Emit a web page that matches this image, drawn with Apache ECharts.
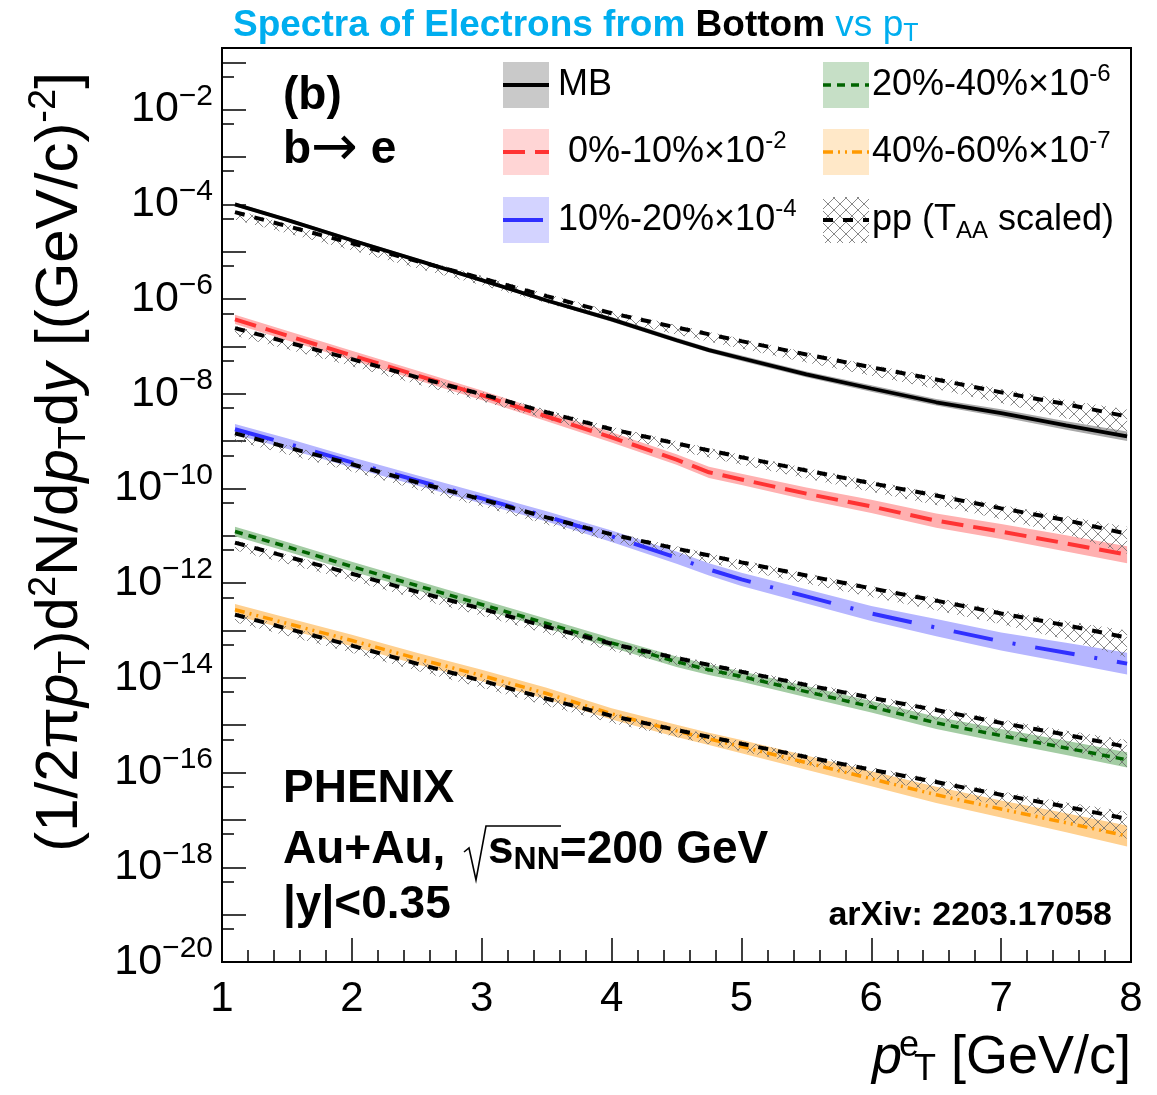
<!DOCTYPE html>
<html><head><meta charset="utf-8">
<script src="https://cdn.jsdelivr.net/npm/echarts@6/dist/echarts.min.js"></script>
<style>html,body{margin:0;padding:0;background:#fff}#c{width:1157px;height:1095px}</style>
</head><body><div id="c"></div>
<script>
const FONT = '"Liberation Sans", Arial, Helvetica, sans-serif';

// ---- data ----
const ptAuAu = [1.1, 1.5, 2, 2.5, 3, 3.5, 4, 4.5, 4.75, 5, 5.5, 6, 6.5, 7, 7.5, 7.97];
const ptPP   = [1.1, 1.5, 2, 2.5, 3, 3.5, 4, 4.5, 5, 5.5, 6, 6.5, 7, 7.5, 7.97];

const yMB    = [1.00e-4, 4.68e-5, 1.74e-5, 6.61e-6, 2.51e-6, 9.33e-7, 3.72e-7, 1.35e-7, 8.32e-8, 5.62e-8, 2.57e-8, 1.29e-8, 6.61e-9, 3.89e-9, 2.14e-9, 1.26e-9];
const y0010  = [3.72e-7, 1.70e-7, 6.46e-8, 2.45e-8, 9.33e-9, 3.31e-9, 1.20e-9, 4.07e-10, 2.19e-10, 1.55e-10, 7.76e-11, 4.17e-11, 2.09e-11, 1.23e-11, 6.92e-12, 3.98e-12];
const y1020  = [1.78e-9, 8.91e-10, 3.55e-10, 1.48e-10, 6.17e-11, 2.57e-11, 9.77e-12, 3.47e-12, 1.95e-12, 1.20e-12, 5.25e-13, 2.29e-13, 1.15e-13, 5.89e-14, 3.39e-14, 2.00e-14];
const y2040  = [1.23e-11, 5.89e-12, 2.24e-12, 8.91e-13, 3.55e-13, 1.41e-13, 5.50e-14, 2.19e-14, 1.48e-14, 1.07e-14, 5.13e-15, 2.45e-15, 1.12e-15, 6.03e-16, 3.31e-16, 1.86e-16];
const y4060  = [2.75e-13, 1.41e-13, 6.17e-14, 2.57e-14, 1.12e-14, 4.68e-15, 1.74e-15, 7.59e-16, 5.13e-16, 3.55e-16, 1.62e-16, 7.41e-17, 3.39e-17, 1.70e-17, 8.71e-18, 4.57e-18];

// systematic band half-widths (decades)
const errMB   = [0.04,0.04,0.04,0.04,0.04,0.04,0.05,0.05,0.05,0.06,0.06,0.07,0.07,0.08,0.09,0.10];
const err0010 = [0.10,0.10,0.10,0.10,0.10,0.10,0.11,0.11,0.12,0.12,0.13,0.14,0.15,0.16,0.17,0.18];
const err1020 = [0.11,0.11,0.11,0.11,0.11,0.11,0.12,0.13,0.13,0.14,0.15,0.16,0.18,0.19,0.21,0.23];
const err2040 = [0.10,0.10,0.10,0.10,0.10,0.10,0.10,0.11,0.11,0.11,0.12,0.12,0.13,0.14,0.15,0.16];
const err4060 = [0.12,0.12,0.12,0.12,0.12,0.12,0.12,0.13,0.13,0.14,0.15,0.16,0.17,0.18,0.20,0.22];

// pp reference (T_AA scaled)
const ppMB   = [6.84e-5, 3.47e-5, 1.51e-5, 6.31e-6, 2.75e-6, 1.15e-6, 5.01e-7, 2.51e-7, 1.29e-7, 6.76e-8, 3.63e-8, 2.00e-8, 1.07e-8, 6.03e-9, 3.31e-9];
const pp0010 = [2.43e-7, 1.23e-7, 5.37e-8, 2.24e-8, 9.77e-9, 4.07e-9, 1.78e-9, 8.91e-10, 4.57e-10, 2.40e-10, 1.29e-10, 7.08e-11, 3.80e-11, 2.14e-11, 1.10e-11];
const pp1020 = [1.46e-9, 7.41e-10, 3.24e-10, 1.35e-10, 5.89e-11, 2.45e-11, 1.07e-11, 5.37e-12, 2.75e-12, 1.45e-12, 7.76e-13, 4.27e-13, 2.29e-13, 1.29e-13, 7.08e-14];
const pp2040 = [7.16e-12, 3.63e-12, 1.58e-12, 6.61e-13, 2.88e-13, 1.20e-13, 5.25e-14, 2.63e-14, 1.35e-14, 7.08e-15, 3.80e-15, 2.09e-15, 1.12e-15, 6.31e-16, 3.47e-16];
const pp4060 = [2.16e-13, 1.10e-13, 4.79e-14, 2.00e-14, 8.71e-15, 3.63e-15, 1.58e-15, 7.94e-16, 4.07e-16, 2.14e-16, 1.15e-16, 6.31e-17, 3.39e-17, 1.91e-17, 1.05e-17];
const ppErrUp = [0.05,0.05,0.05,0.05,0.05,0.05,0.05,0.05,0.05,0.05,0.05,0.06,0.07,0.09,0.15];
const ppErrDn = [0.16,0.15,0.15,0.15,0.15,0.15,0.15,0.15,0.16,0.17,0.18,0.20,0.23,0.30,0.42];

// axis tick labels
const xTickValues = [1, 2, 3, 4, 5, 6, 7, 8];
const yLabelExponents = [-20, -18, -16, -14, -12, -10, -8, -6, -4, -2];

// ---- styles ----
const hatchCanvas = (function () {
  const c = document.createElement('canvas'); c.width = 12; c.height = 12;
  const g = c.getContext('2d');
  g.strokeStyle = '#6a6a6a'; g.lineWidth = 0.8;
  g.beginPath(); g.moveTo(-1, -1); g.lineTo(13, 13); g.moveTo(-1, 13); g.lineTo(13, -1); g.stroke();
  return c;
})();
const hatchFill = { image: hatchCanvas, repeat: 'repeat' };

const ST = {
  mb:  { line: '#000000', band: '#a9a9a9', box: '#c9c9c9', width: 3.8, type: 'solid' },
  c0:  { line: '#ff3333', band: '#ffb0b0', box: '#ffd5d5', width: 4, type: [22, 10] },
  c1:  { line: '#3030ff', band: '#b5b5ff', box: '#d3d3ff', width: 4, type: [40, 20, 3, 20] },
  c2:  { line: '#006400', band: '#a3cca3', box: '#c6dfc6', width: 3.5, type: [8, 6] },
  c3:  { line: '#ff9900', band: '#ffd08f', box: '#ffe8c8', width: 3.5, type: [10, 5, 2, 5, 2, 5] },
  pp:  { line: '#000000', width: 4, type: [10, 10] }
};

function bandSeries(name, xs, c, dUp, dDn, fill, z) {
  const lo = c.map((v, i) => v * Math.pow(10, -dDn[i]));
  const hi = c.map((v, i) => v * Math.pow(10, dUp[i]));
  return {
    name, type: 'custom', z, silent: true, clip: true,
    data: xs.map((x, i) => [x, lo[i], hi[i]]),
    encode: { x: 0, y: [1, 2] },
    renderItem(params, api) {
      if (params.dataIndex !== 0) return null;
      const top = [], bot = [];
      for (let i = 0; i < xs.length; i++) {
        top.push(api.coord([xs[i], hi[i]]));
        bot.push(api.coord([xs[i], lo[i]]));
      }
      return { type: 'polygon', shape: { points: top.concat(bot.reverse()) }, style: { fill } };
    }
  };
}
function lineSeries(name, xs, ys, st, z) {
  return {
    name, type: 'line', z, silent: true, showSymbol: false, symbol: 'none',
    data: xs.map((x, i) => [x, ys[i]]),
    lineStyle: { color: st.line, width: st.width, type: st.type, cap: 'butt' }
  };
}

const aaSets = [
  ['MB', yMB, errMB, ST.mb, ppMB],
  ['0%-10%', y0010, err0010, ST.c0, pp0010],
  ['10%-20%', y1020, err1020, ST.c1, pp1020],
  ['20%-40%', y2040, err2040, ST.c2, pp2040],
  ['40%-60%', y4060, err4060, ST.c3, pp4060]
];
const series = [];
aaSets.forEach(s => series.push(bandSeries(s[0] + ' band', ptAuAu, s[1], s[2], s[2], s[3].band, 1)));
aaSets.forEach(s => series.push(bandSeries(s[0] + ' pp band', ptPP, s[4], ppErrUp, ppErrDn, hatchFill, 2)));
aaSets.forEach(s => series.push(lineSeries(s[0], ptAuAu, s[1], s[3], 3)));
aaSets.forEach(s => series.push(lineSeries(s[0] + ' pp', ptPP, s[4], ST.pp, 4)));

// ---- legend (drawn) ----
const legendItems = [
  { col: 0, row: 0, st: ST.mb, text: '{t|MB}' },
  { col: 0, row: 1, st: ST.c0, text: '{t| 0%-10%×10}{s|-2}' },
  { col: 0, row: 2, st: ST.c1, text: '{t|10%-20%×10}{s|-4}' },
  { col: 1, row: 0, st: ST.c2, text: '{t|20%-40%×10}{s|-6}' },
  { col: 1, row: 1, st: ST.c3, text: '{t|40%-60%×10}{s|-7}' },
  { col: 1, row: 2, st: null,  text: '{t|pp (T}{b|AA}{t| scaled)}' }
];
const legRowY = [85, 152, 220], legBoxX = [503, 823], legTextX = [558, 872];
const graphic = [];
legendItems.forEach(it => {
  const x = legBoxX[it.col], y = legRowY[it.row];
  graphic.push({ type: 'rect', shape: { x: x, y: y - 23, width: 46, height: 46 },
    style: { fill: it.st ? it.st.box : hatchFill }, z: 10 });
  const ls = it.st || ST.pp;
  graphic.push({ type: 'line', shape: { x1: x, y1: y, x2: x + 46, y2: y },
    style: { stroke: ls.line, lineWidth: ls.width, lineDash: ls.type === 'solid' ? null : ls.type }, z: 11 });
  graphic.push({ type: 'text', x: legTextX[it.col], y: y, z: 11,
    style: { text: it.text, verticalAlign: 'middle', fill: '#000',
      rich: {
        t: { fontSize: 36, fontFamily: FONT, lineHeight: 46, verticalAlign: 'middle' },
        s: { fontSize: 24, fontFamily: FONT, lineHeight: 22, verticalAlign: 'top' },
        b: { fontSize: 24, fontFamily: FONT, lineHeight: 22, verticalAlign: 'bottom' }
      } } });
});

// ---- annotations ----
const boldRich = {
  B: { fontSize: 46, fontWeight: 'bold', fontFamily: FONT, lineHeight: 52, verticalAlign: 'middle' },
  A: { fontSize: 56, fontWeight: 'normal', fontFamily: '"DejaVu Sans", sans-serif', lineHeight: 52, verticalAlign: 'middle' },
  S: { fontSize: 32, fontWeight: 'bold', fontFamily: FONT, lineHeight: 26, verticalAlign: 'bottom' }
};
function note(text, x, y, align) {
  return { type: 'text', x, y, z: 11, style: { text, align: align || 'left', verticalAlign: 'middle', fill: '#000', rich: boldRich } };
}
graphic.push(note('{B|(b)}', 283, 96));
graphic.push(note('{B|b}{A|→}{B| e}', 283, 150));
graphic.push(note('{B|PHENIX}', 283, 789));
graphic.push(note('{B|Au+Au,}', 283, 850));
graphic.push({ type: 'polyline', z: 11, shape: { points: [[464, 852], [469, 848], [476, 880], [486, 826], [561, 826]] },
  style: { stroke: '#000', lineWidth: 1.6, fill: null } });
graphic.push(note('{B|s}{S|NN}{B|=200 GeV}', 488, 850));
graphic.push(note('{B||y|<0.35}', 283, 905));
graphic.push({ type: 'text', x: 1112, y: 916, z: 11, style: { text: 'arXiv: 2203.17058', align: 'right', verticalAlign: 'middle',
  fill: '#000', font: 'bold 34px ' + FONT } });

const option = {
  animation: false,
  backgroundColor: '#ffffff',
  title: {
    left: 228, top: 0,
    text: '{a|Spectra of Electrons from }{b|Bottom}{c| vs p}{d|T}',
    textStyle: { rich: {
      a: { color: '#00aeef', fontSize: 37, fontWeight: 'bold', fontFamily: FONT, lineHeight: 42, verticalAlign: 'middle' },
      b: { color: '#000', fontSize: 37, fontWeight: 'bold', fontFamily: FONT, lineHeight: 42, verticalAlign: 'middle' },
      c: { color: '#00aeef', fontSize: 37, fontWeight: 'normal', fontFamily: FONT, lineHeight: 42, verticalAlign: 'middle' },
      d: { color: '#00aeef', fontSize: 25, fontWeight: 'normal', fontFamily: FONT, lineHeight: 18, verticalAlign: 'bottom' }
    } }
  },
  grid: { left: 222, right: 26, top: 48, bottom: 133, show: true, borderColor: '#000', borderWidth: 2, backgroundColor: 'transparent' },
  xAxis: {
    type: 'value', min: 1, max: 8, interval: 1,
    axisLine: { show: true, lineStyle: { color: '#000', width: 2 } },
    axisTick: { show: true, inside: true, length: 24, lineStyle: { color: '#000', width: 1.5 } },
    minorTick: { show: true, splitNumber: 5, length: 12, lineStyle: { color: '#000', width: 1.5 } },
    splitLine: { show: false }, minorSplitLine: { show: false },
    axisLabel: { color: '#000', fontSize: 42, fontFamily: FONT, margin: 16,
      formatter: v => (xTickValues.indexOf(v) >= 0 ? String(v) : '') },
    name: '{i|p}{e|e}{t|T}{n| [GeV/c]}',
    nameLocation: 'end', nameGap: 0, nameMoveOverlap: false,
    nameTextStyle: { align: 'right', verticalAlign: 'top', padding: [66, 0, 0, 0], rich: {
      i: { fontSize: 54, fontStyle: 'italic', fontFamily: FONT, color: '#000', lineHeight: 60, verticalAlign: 'middle' },
      e: { fontSize: 36, fontFamily: FONT, color: '#000', lineHeight: 30, verticalAlign: 'top', width: 2, align: 'left', padding: [0, 0, 0, 6] },
      t: { fontSize: 36, fontFamily: FONT, color: '#000', lineHeight: 26, verticalAlign: 'bottom', padding: [0, 0, 0, 4] },
      n: { fontSize: 54, fontFamily: FONT, color: '#000', lineHeight: 60, verticalAlign: 'middle' }
    } }
  },
  yAxis: [{
    type: 'log', logBase: 10, min: 1e-20, max: 0.2, interval: 1,
    axisLine: { show: true, lineStyle: { color: '#000', width: 2 } },
    axisTick: { show: true, inside: true, length: 24, lineStyle: { color: '#000', width: 1.5 } },
    splitLine: { show: false },
    axisLabel: {
      margin: 9, color: '#000',
      formatter: function (v) {
        const l = Math.log10(v), e = Math.round(l);
        if (Math.abs(l - e) > 1e-6 || yLabelExponents.indexOf(e) < 0) return '';
        return '{b|10}{s|−' + (-e) + '}';
      },
      rich: {
        b: { fontSize: 43, fontFamily: FONT, color: '#000', lineHeight: 56, verticalAlign: 'middle' },
        s: { fontSize: 30, fontFamily: FONT, color: '#000', lineHeight: 26, verticalAlign: 'top' }
      }
    },
    name: '{n|(1/2π}{i|p}{sb|T}{n|)d}{sp|2}{n|N/d}{i|p}{sb|T}{n|d}{i|y}{n| [(GeV/c)}{sp|-2}{n|]}',
    nameLocation: 'middle', nameRotate: 90, nameGap: 128, nameMoveOverlap: false,
    nameTextStyle: { padding: [0, 0, 0, 86], rich: {
      n: { fontSize: 60, fontFamily: FONT, color: '#000', lineHeight: 68, verticalAlign: 'middle' },
      i: { fontSize: 60, fontStyle: 'italic', fontFamily: FONT, color: '#000', lineHeight: 68, verticalAlign: 'middle' },
      sb: { fontSize: 38, fontFamily: FONT, color: '#000', lineHeight: 30, verticalAlign: 'bottom' },
      sp: { fontSize: 38, fontFamily: FONT, color: '#000', lineHeight: 30, verticalAlign: 'top' }
    } }
  }, {
    type: 'log', logBase: 10, min: 1e-20, max: 0.2, position: 'left',
    axisLine: { show: false }, splitLine: { show: false }, axisLabel: { show: false },
    axisTick: { show: true, inside: true, length: 12, lineStyle: { color: '#000', width: 1.5 },
      customValues: yLabelExponents.concat([-19, -17, -15, -13, -11, -9, -7, -5, -3]).map(e => 5 * Math.pow(10, e)) }
  }],
  series,
  graphic
};
const chart = echarts.init(document.getElementById('c'));
chart.setOption(option);
</script></body></html>
